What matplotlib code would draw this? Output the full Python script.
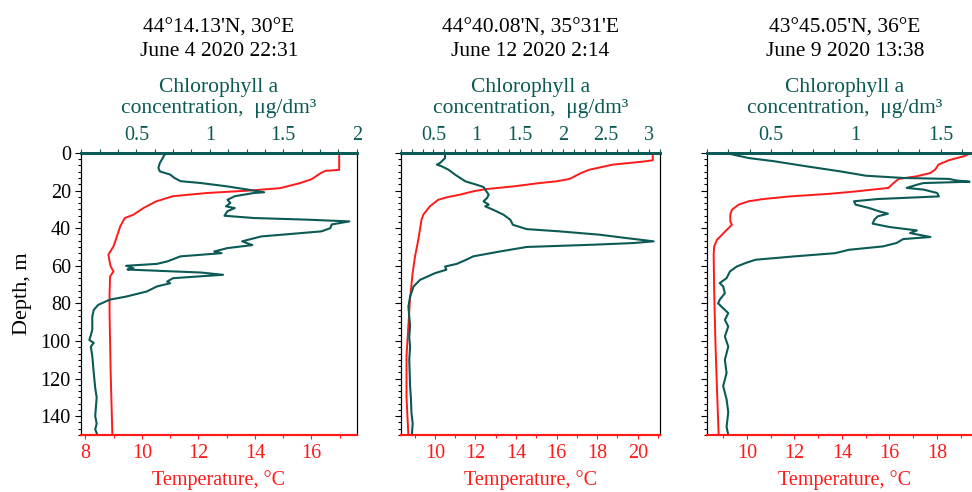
import matplotlib
matplotlib.use("Agg")
import matplotlib.pyplot as plt
from matplotlib.ticker import MultipleLocator, FuncFormatter

plt.rcParams['font.family'] = ['Liberation Serif', 'DejaVu Serif']

TEMP_COLOR = '#ff1a1a'
CHL_COLOR = '#0b5a55'

# station headers
titles = [
    "44°14.13'N, 30°E\nJune 4 2020 22:31",
    "44°40.08'N, 35°31'E\nJune 12 2020 2:14",
    "43°45.05'N, 36°E\nJune 9 2020 13:38",
]

# station 1: temperature profile
depth_t1 = [0, 9, 9.5, 10.5, 14, 16, 18.7, 19.9, 21.3, 23, 25.8, 29.3, 32.9, 34.6, 39,
            44.4, 49.7, 54, 56.8, 60.4, 63, 65.7, 75, 85, 117, 150]
temp_1 = [16.98, 16.98, 16.5, 16.35, 16.0, 15.6, 14.9, 13.9, 12.3, 11.1, 10.5, 10.06, 9.7,
          9.4, 9.24, 9.12, 9.0, 8.82, 8.85, 8.9, 9.0, 8.88, 8.86, 8.86, 8.9, 8.96]

# station 1: chlorophyll profile
depth_c1 = [0, 1, 2.7, 5.3, 8, 9.8, 11.5, 13.3, 15, 16, 17.8, 19.5, 20.9, 21.3, 23, 24.9,
            26.6, 28.4, 29.3, 31, 33.4, 34.6, 35.5, 36.4, 38, 40, 41.7, 44.4, 46.2, 47, 49,
            50.6, 52.4, 53.3, 55, 57.7, 59, 60, 61.3, 62, 63.6, 64.8, 66.6, 68.4, 69.3, 71,
            73.7, 76.4, 78, 80.8, 83.5, 87, 94, 97, 99.5, 101, 103, 108, 117, 125, 130, 135,
            140, 144, 147, 150]
chl_1 = [0.72, 0.69, 0.68, 0.66, 0.65, 0.66, 0.73, 0.76, 0.80, 0.94, 1.12, 1.26, 1.37, 1.30,
         1.17, 1.12, 1.14, 1.11, 1.17, 1.12, 1.10, 1.30, 1.67, 1.95, 1.83, 1.82, 1.76, 1.35,
         1.26, 1.22, 1.29, 1.12, 1.03, 1.08, 0.80, 0.71, 0.64, 0.43, 0.48, 0.44, 0.94, 1.09,
         0.75, 0.71, 0.73, 0.64, 0.57, 0.43, 0.32, 0.24, 0.21, 0.20, 0.20, 0.19, 0.18, 0.21,
         0.19, 0.20, 0.21, 0.22, 0.23, 0.225, 0.22, 0.23, 0.22, 0.235]

# station 2: temperature profile
depth_t2 = [0, 3.9, 4.6, 6.2, 8.9, 10.7, 13.8, 15.1, 16, 17.8, 19.2, 20.4, 22.2, 23.4, 24.9,
            28.4, 32.8, 35.5, 46.2, 55, 64, 78, 92, 108, 130, 150]
temp_2 = [20.74, 20.74, 20.25, 18.77, 17.62, 17.2, 16.64, 15.98, 15.16, 13.85, 12.54, 11.89,
          11.23, 10.66, 10.16, 9.75, 9.43, 9.34, 9.18, 9.02, 8.9, 8.77, 8.69, 8.6, 8.6, 8.69]

# station 2: chlorophyll profile
depth_c2 = [0, 2.7, 5.3, 6.2, 7.1, 8.9, 11.5, 13.3, 15.1, 16.9, 18.1, 19.5, 22.2, 24, 25.7,
            27.5, 28.4, 30.2, 32.8, 35.5, 38.2, 40.5, 41.7, 43.5, 45.3, 47, 47.9, 48.8, 50,
            52.4, 55, 56.8, 59, 60.4, 62.1, 63.9, 67.5, 71, 73.7, 76.3, 81.7, 87, 92, 98,
            103, 110, 117, 124, 131, 138, 144, 150]
chl_2 = [0.635, 0.635, 0.577, 0.54, 0.596, 0.674, 0.75, 0.81, 0.87, 1.0, 1.08, 1.10, 1.14,
         1.12, 1.08, 1.14, 1.10, 1.19, 1.31, 1.39, 1.42, 1.58, 1.96, 2.43, 2.74, 3.05, 2.82,
         2.35, 1.58, 1.27, 0.96, 0.88, 0.77, 0.635, 0.65, 0.52, 0.345, 0.27, 0.25, 0.23,
         0.21, 0.22, 0.23, 0.22, 0.23, 0.22, 0.225, 0.23, 0.24, 0.245, 0.26, 0.25]

# station 3: temperature profile
depth_t3 = [0, 1.8, 3.9, 6.2, 8.9, 10.7, 12.4, 13.8, 16, 18.6, 20.4, 21.7, 23.1, 24.5, 25.7,
            27.5, 30.2, 32.8, 36.4, 38.2, 40.8, 43.5, 46.2, 49.7, 54, 72.8, 99.4, 126, 150]
temp_3 = [19.47, 19.12, 18.5, 18.07, 17.93, 17.72, 17.16, 16.39, 16.18, 15.96, 14.63, 13.5,
          11.82, 10.7, 10.07, 9.65, 9.37, 9.3, 9.3, 9.37, 9.16, 8.95, 8.74, 8.62, 8.6, 8.62,
          8.67, 8.74, 8.81]

# station 3: chlorophyll profile
depth_c3 = [0, 0.9, 2.7, 4.4, 7.1, 9.8, 12.1, 13.3, 13.8, 14.6, 15.3, 16, 16.9, 18.6, 19.5,
            21.3, 23.1, 24.5, 25.7, 27.5, 29.3, 31.1, 32.3, 33.7, 35.5, 37.6, 39.4, 41.2,
            42.6, 44.7, 45.8, 47.9, 49.7, 51.5, 53.3, 55, 56.8, 58.6, 60.4, 63, 64.8, 66.6,
            69.2, 71, 74.6, 78, 80, 81.7, 85.2, 88.8, 92.3, 97.6, 103, 110, 117, 124, 131,
            138, 145.6, 150]
chl_3 = [0.24, 0.28, 0.37, 0.52, 0.71, 0.91, 1.06, 1.28, 1.55, 1.59, 1.67, 1.40, 1.36, 1.30,
         1.40, 1.48, 1.49, 1.13, 0.99, 1.0, 1.08, 1.14, 1.19, 1.13, 1.11, 1.10, 1.20, 1.36,
         1.32, 1.44, 1.28, 1.24, 1.16, 0.96, 0.88, 0.64, 0.41, 0.35, 0.30, 0.26, 0.25, 0.24,
         0.20, 0.22, 0.23, 0.20, 0.19, 0.21, 0.25, 0.23, 0.25, 0.23, 0.25, 0.23, 0.24, 0.22,
         0.24, 0.25, 0.24, 0.25]

# axis limits for each station
temp_lims = [(7.86, 17.6), (8.33, 21.1), (8.32, 19.95)]
chl_lims = [(0.125, 2.0), (0.125, 3.125), (0.125, 1.75)]
depth_max = 150

profiles = [
    (depth_t1, temp_1, depth_c1, chl_1),
    (depth_t2, temp_2, depth_c2, chl_2),
    (depth_t3, temp_3, depth_c3, chl_3),
]

# panel placement in figure coordinates: left, width
positions = [(0.0836, 0.2834), (0.4126, 0.2665), (0.7274, 0.2840)]

fig = plt.figure(figsize=(9.72, 4.92), dpi=100)
fmt = FuncFormatter(lambda v, p: f"{v:g}")

for i, (dt, t, dc, c) in enumerate(profiles):
    left, width = positions[i]
    ax = fig.add_axes([left, 0.1159, width, 0.5732])
    ax2 = ax.twiny()

    ax.plot(t, dt, color=TEMP_COLOR, lw=1.4, zorder=3)
    ax2.plot(c, dc, color=CHL_COLOR, lw=1.5, zorder=2)

    ax.set_xlim(*temp_lims[i])
    ax2.set_xlim(*chl_lims[i])
    ax.set_ylim(depth_max, 0)

    # temperature axis (bottom)
    ax.xaxis.set_major_locator(MultipleLocator(2))
    ax.xaxis.set_minor_locator(MultipleLocator(1))
    ax.tick_params(axis='x', which='both', colors=TEMP_COLOR, labelsize=14.5, direction='out')
    ax.tick_params(axis='x', which='major', length=3, width=0.8)
    ax.tick_params(axis='x', which='minor', length=2, width=0.8)
    ax.set_xlabel("Temperature, °C", color=TEMP_COLOR, fontsize=14.5, labelpad=5)

    # chlorophyll axis (top)
    ax2.xaxis.set_major_locator(MultipleLocator(0.5))
    ax2.xaxis.set_minor_locator(MultipleLocator(0.125))
    ax2.xaxis.set_major_formatter(fmt)
    ax2.tick_params(axis='x', which='both', colors=CHL_COLOR, labelsize=14.5, direction='out',
                    length=3, width=0.8, pad=3)
    ax2.set_xlabel("Chlorophyll a\nconcentration,  μg/dm³", color=CHL_COLOR,
                   fontsize=15.5, labelpad=9, linespacing=1.15)

    # depth axis
    ax.yaxis.set_major_locator(MultipleLocator(20))
    ax.yaxis.set_minor_locator(MultipleLocator(10 / 3))
    ax.tick_params(axis='y', which='major', length=4, width=0.8, labelsize=14.5)
    ax.tick_params(axis='y', which='minor', length=2, width=0.8)
    if i == 0:
        ax.set_ylabel("Depth, m", fontsize=16, labelpad=6)
    else:
        ax.tick_params(axis='y', labelleft=False)

    for a in (ax, ax2):
        a.spines['top'].set_color(CHL_COLOR)
        a.spines['top'].set_linewidth(2)
        a.spines['bottom'].set_color(TEMP_COLOR)
        a.spines['bottom'].set_linewidth(1.5)
        a.spines['left'].set_linewidth(0.8)
        a.spines['right'].set_linewidth(0.8)

    fig.text(left + width / 2, 1 - 40 / 492, titles[i], ha='center', va='center',
             fontsize=15.5, linespacing=1.3)

fig.savefig("out.png", dpi=100)
